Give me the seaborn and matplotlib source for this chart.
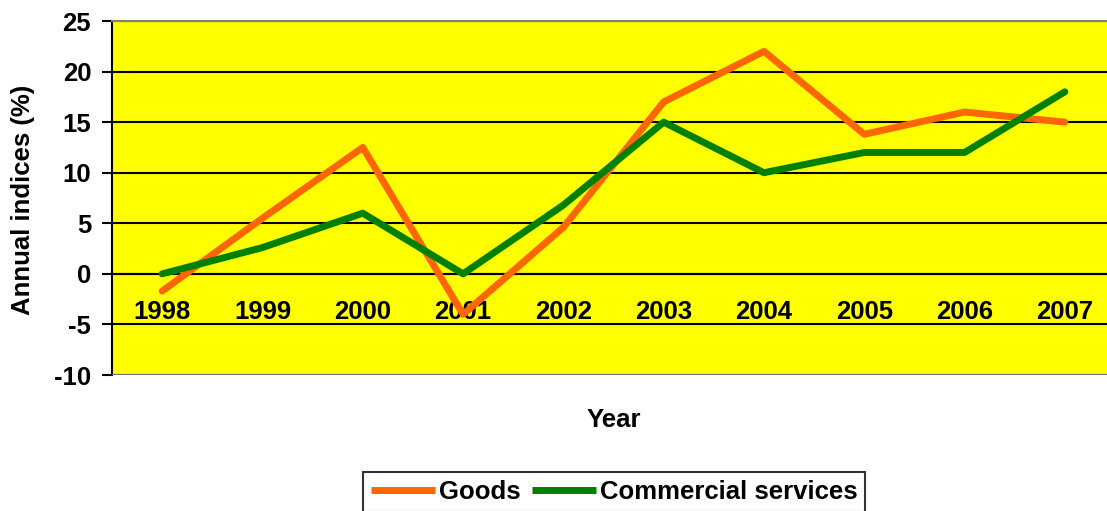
import matplotlib
matplotlib.use("Agg")
import matplotlib.pyplot as plt
import seaborn as sns
import pandas as pd

years = ["1998", "1999", "2000", "2001", "2002", "2003", "2004", "2005", "2006", "2007"]
goods = [-1.7, 5.5, 12.5, -4.0, 4.6, 17.0, 22.0, 13.8, 16.0, 15.0]
services = [0.0, 2.6, 6.0, 0.0, 6.8, 15.0, 10.0, 12.0, 12.0, 18.0]
yticks = [-10, -5, 0, 5, 10, 15, 20, 25]

sns.set_style("white")
plt.rcParams["font.family"] = ["Liberation Sans", "DejaVu Sans"]
plt.rcParams["font.weight"] = "bold"
plt.rcParams["text.color"] = "black"
plt.rcParams["xtick.color"] = "black"
plt.rcParams["ytick.color"] = "black"

FS = 18.5
LW = 5

df = pd.DataFrame({
    "pos": list(range(len(years))) * 2,
    "value": goods + services,
    "series": ["Goods"] * len(years) + ["Commercial services"] * len(years),
})

fig = plt.figure(figsize=(11.07, 5.11), dpi=100)
ax = fig.add_axes([112 / 1107, 136 / 511, 1003 / 1107, 354 / 511])
ax.set_facecolor("#FFFF00")

for y in yticks:
    ax.axhline(y, color="black", linewidth=1.5, zorder=1)

sns.lineplot(data=df, x="pos", y="value", hue="series",
             palette={"Goods": "#FF6600", "Commercial services": "#008000"},
             linewidth=LW, ax=ax, zorder=3, legend=False)

ax.set_xlim(-0.5, len(years) - 0.5)
ax.set_ylim(-10, 25)
ax.set_yticks(yticks)
ax.set_yticklabels([str(v) for v in yticks])
ax.set_xticks(range(len(years)))
ax.set_xticklabels(years)
ax.set_xticks([i + 0.5 for i in range(len(years) - 1)], minor=True)
ax.tick_params(axis="x", which="major", length=0, pad=19, labelsize=FS, labelcolor="black")
ax.tick_params(axis="x", which="minor", length=7, width=1.5, direction="out", color="black")
ax.tick_params(axis="y", length=7, width=1.5, direction="out", color="black", left=True,
               pad=8, labelsize=FS, labelcolor="black")
for lab in ax.get_xticklabels() + ax.get_yticklabels():
    lab.set_fontweight("bold")

ax.spines["bottom"].set_position(("data", 0))
ax.spines["bottom"].set_color("black")
ax.spines["bottom"].set_linewidth(1.5)
ax.spines["left"].set_color("black")
ax.spines["left"].set_linewidth(1.5)
for s in ["top", "right"]:
    ax.spines[s].set_color("#808080")
    ax.spines[s].set_linewidth(1.5)
ax.axhline(-10, color="#808080", linewidth=2, zorder=4)

ax.set_xlabel("")
ax.set_ylabel("")
fig.text(23 / 1107, 1 - 200 / 511, "Annual indices (%)", rotation=90,
         ha="center", va="center", fontsize=FS, fontweight="bold")
fig.text(614 / 1107, 1 - 420 / 511, "Year", ha="center", va="center",
         fontsize=FS, fontweight="bold")

handles = [plt.Line2D([], [], color="#FF6600", linewidth=LW, solid_capstyle="butt"),
           plt.Line2D([], [], color="#008000", linewidth=LW, solid_capstyle="butt")]
leg = fig.legend(handles, ["Goods", "Commercial services"], loc="center",
                 bbox_to_anchor=(614 / 1107, 1 - 492 / 511), ncol=2,
                 fontsize=FS, frameon=True, fancybox=False, edgecolor="black",
                 handlelength=2.5, handletextpad=0.15, columnspacing=0.45,
                 borderpad=0.3, borderaxespad=0)
leg.get_frame().set_linewidth(1.5)
for t in leg.get_texts():
    t.set_fontweight("bold")

fig.savefig("out.png", dpi=100)
